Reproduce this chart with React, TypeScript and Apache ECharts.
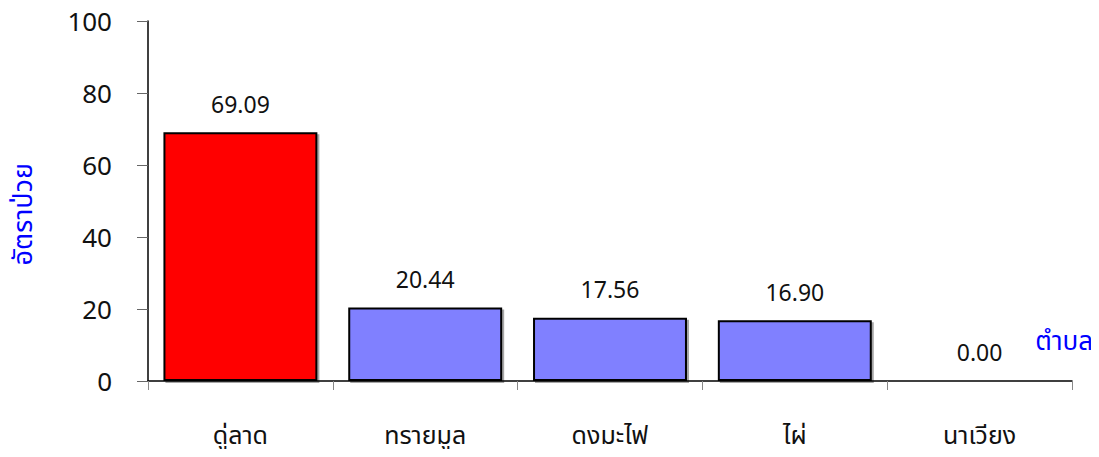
import React, { useEffect, useRef } from "react";
import * as echarts from "echarts";

const categories = ["ดู่ลาด", "ทรายมูล", "ดงมะไฟ", "ไผ่", "นาเวียง"];
const values = [69.09, 20.44, 17.56, 16.9, 0.0];
const barColors = ["#FF0000", "#8080FF", "#8080FF", "#8080FF", "#8080FF"];
const yAxisTitle = "อัตราป่วย";
const xAxisTitle = "ตำบล";

export default function App() {
  const ref = useRef<HTMLDivElement>(null);
  useEffect(() => {
    if (!ref.current) return;
    const chart = echarts.init(ref.current, undefined, { renderer: "svg" });
    const font = "'Noto Sans', 'Noto Sans Thai', sans-serif";
    chart.setOption({
      animation: false,
      textStyle: { fontFamily: font },
      grid: { left: 148, right: 27, top: 21, bottom: 76 },
      xAxis: {
        type: "category",
        data: categories,
        axisLine: { lineStyle: { color: "#000", width: 1.5 } },
        axisTick: { show: true, length: 9, lineStyle: { color: "#888" } },
        axisLabel: { color: "#111", fontSize: 25, margin: 40, fontFamily: font },
      },
      yAxis: {
        type: "value",
        min: 0,
        max: 100,
        interval: 20,
        axisLine: { show: true, lineStyle: { color: "#000", width: 1.5 } },
        axisTick: { show: true, length: 11, lineStyle: { color: "#666" } },
        splitLine: { show: false },
        axisLabel: { color: "#111", fontSize: 26, margin: 36, fontFamily: font },
      },
      graphic: [
        {
          type: "text",
          left: 8,
          top: 163,
          style: {
            text: yAxisTitle,
            fill: "#0000FF",
            fontSize: 27,
            fontFamily: font,
          },
          rotation: Math.PI / 2,
        },
        {
          type: "text",
          right: 6,
          top: 327,
          style: {
            text: xAxisTitle,
            fill: "#0000FF",
            fontSize: 26,
            fontFamily: font,
          },
        },
      ],
      series: [
        {
          type: "bar",
          barWidth: "83.3%",
          data: values.map((v, i) => ({
            value: v,
            itemStyle: {
              color: barColors[i],
              borderColor: "#000",
              borderWidth: 2,
              shadowColor: "rgba(0,0,0,0.35)",
              shadowOffsetX: 2,
              shadowOffsetY: 2,
              shadowBlur: 0,
            },
          })),
          label: {
            show: true,
            position: "top",
            distance: 17,
            color: "#111",
            fontSize: 23,
            fontFamily: font,
            formatter: (p: any) => Number(p.value).toFixed(2),
          },
        },
      ],
    });
    return () => chart.dispose();
  }, []);
  return <div ref={ref} style={{ width: 1099, height: 457, margin: -8 }} />;
}
